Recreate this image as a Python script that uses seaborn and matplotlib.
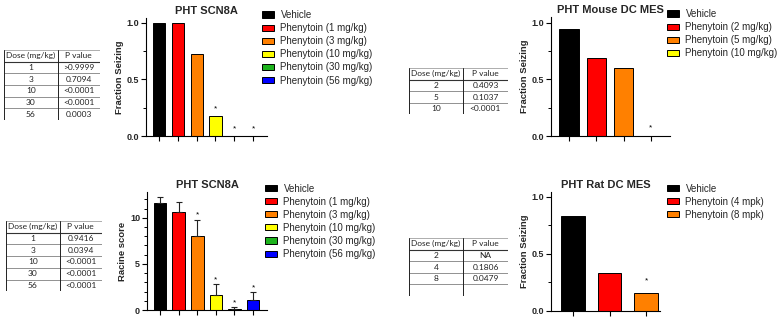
import matplotlib
matplotlib.use("Agg")
import matplotlib.pyplot as plt
from matplotlib.patches import Patch
from matplotlib.ticker import MultipleLocator, FormatStrFormatter
import seaborn as sns
import pandas as pd

sns.set_style("ticks")
plt.rcParams["font.family"] = ["Liberation Sans", "DejaVu Sans"]

W, H = 780, 320

# --- Daten ---
scn8a_groups = ["Vehicle", "Phenytoin (1 mg/kg)", "Phenytoin (3 mg/kg)",
                "Phenytoin (10 mg/kg)", "Phenytoin (30 mg/kg)", "Phenytoin (56 mg/kg)"]
scn8a_colors = ["#000000", "#ff0000", "#ff8000", "#ffff00", "#1db31d", "#0000ff"]
scn8a_fraction = [1.0, 1.0, 0.72, 0.18, 0.0, 0.0]
scn8a_fraction_sig = [False, False, False, True, True, True]
scn8a_racine = [11.6, 10.6, 8.0, 1.65, 0.1, 1.1]
scn8a_racine_sem = [0.7, 1.1, 1.8, 1.15, 0.2, 0.8]
scn8a_racine_sig = [False, False, True, True, True, True]

mouse_groups = ["Vehicle", "Phenytoin (2 mg/kg)", "Phenytoin (5 mg/kg)", "Phenytoin (10 mg/kg)"]
mouse_colors = ["#000000", "#ff0000", "#ff8000", "#ffff00"]
mouse_fraction = [0.94, 0.69, 0.6, 0.0]
mouse_sig = [False, False, False, True]

rat_groups = ["Vehicle", "Phenytoin (4 mpk)", "Phenytoin (8 mpk)"]
rat_colors = ["#000000", "#ff0000", "#ff8000"]
rat_fraction = [0.83, 0.33, 0.16]
rat_sig = [False, False, True]

tab_scn8a_frac_dose = ["1", "3", "10", "30", "56"]
tab_scn8a_frac_p = [">0.9999", "0.7094", "<0.0001", "<0.0001", "0.0003"]
tab_mouse_dose = ["2", "5", "10"]
tab_mouse_p = ["0.4093", "0.1037", "<0.0001"]
tab_scn8a_rac_dose = ["1", "3", "10", "30", "56"]
tab_scn8a_rac_p = ["0.9416", "0.0394", "<0.0001", "<0.0001", "<0.0001"]
tab_rat_dose = ["2", "4", "8"]
tab_rat_p = ["NA", "0.1806", "0.0479"]


def rect(x0, y0, x1, y1):
    return [x0 / W, 1 - y1 / H, (x1 - x0) / W, (y1 - y0) / H]


fig = plt.figure(figsize=(W / 100, H / 100), dpi=100)


def bar_panel(box, groups, colors, values, sig, title, ylabel, ylim, xlim,
              width, major, minor, fmt, leg_xy, star_gap, err=None):
    ax = fig.add_axes(rect(*box))
    df = pd.DataFrame({"group": groups, "value": values})
    sns.barplot(data=df, x="group", y="value", hue="group", order=groups,
                hue_order=groups, palette=colors, saturation=1, width=width,
                edgecolor="black", linewidth=0.7, errorbar=None, legend=False, ax=ax)
    tops = list(values)
    if err is not None:
        n = len(values)
        ax.errorbar(range(n), values, yerr=[[0] * n, err], fmt="none",
                    ecolor="#222222", elinewidth=0.8, capsize=2.5, capthick=0.8)
        tops = [v + e for v, e in zip(values, err)]
    for i, s in enumerate(sig):
        if s:
            ax.text(i, tops[i] + star_gap, "*", ha="center", va="center",
                    fontsize=6, color="black")
    ax.set_xlim(*xlim)
    ax.set_ylim(*ylim)
    ax.set_xticks(range(len(groups)))
    ax.set_xticklabels([])
    ax.set_xlabel("")
    ax.yaxis.set_major_locator(MultipleLocator(major))
    ax.yaxis.set_minor_locator(MultipleLocator(minor))
    ax.yaxis.set_major_formatter(FormatStrFormatter(fmt))
    ax.tick_params(axis="both", which="major", length=3.5, width=0.8,
                   color="black", labelsize=6.5, pad=1.5)
    ax.tick_params(axis="y", which="minor", length=2, width=0.7, color="black")
    for lab in ax.get_yticklabels():
        lab.set_fontweight("bold")
    ax.set_ylabel(ylabel, fontsize=6.8, fontweight="bold", labelpad=2)
    ax.set_title(title, fontsize=8, fontweight="bold", pad=3)
    sns.despine(ax=ax)
    for sp in ("left", "bottom"):
        ax.spines[sp].set_color("black")
        ax.spines[sp].set_linewidth(0.8)
    handles = [Patch(facecolor=c, edgecolor="black", linewidth=0.7) for c in colors]
    fig.legend(handles, groups, loc="upper left",
               bbox_to_anchor=(leg_xy[0] / W, 1 - leg_xy[1] / H),
               frameon=False, fontsize=7, handlelength=1.25, handleheight=0.6,
               handletextpad=0.65, labelspacing=0.32, borderpad=0, borderaxespad=0)
    return ax


def draw_table(x0, xs, x1, ytop, row_h, doses, pvals, n_blank=0):
    nrows = 1 + len(doses) + n_blank
    ybot = ytop + nrows * row_h
    ax = fig.add_axes(rect(x0, ytop, x1, ybot))
    ax.set_xlim(x0, x1)
    ax.set_ylim(nrows, 0)
    ax.axis("off")
    kw = dict(fontsize=6, family=["Lato", "DejaVu Sans"], color="#222222",
              ha="center", va="center")
    c1 = (x0 + xs) / 2
    c2 = (xs + x1) / 2
    ax.text(c1, 0.5, "Dose (mg/kg)", **kw)
    ax.text(c2, 0.5, "P value", **kw)
    for i, (d, p) in enumerate(zip(doses, pvals)):
        ax.text(c1, i + 1.5, d, **kw)
        ax.text(c2, i + 1.5, p, **kw)
    ax.plot([x0, x1], [0, 0], color="#a0a0a0", lw=0.6)
    ax.plot([x0, x1], [1, 1], color="#333333", lw=0.8)
    for r in range(2, nrows):
        ax.plot([x0, x1], [r, r], color="#808080", lw=0.6)
    ax.plot([x0, x0], [0, nrows], color="#222222", lw=0.7)
    ax.plot([xs, xs], [0, nrows], color="#222222", lw=0.7)


# --- Oben links: SCN8A Fraction ---
bar_panel((146, 18, 267, 136), scn8a_groups, scn8a_colors, scn8a_fraction,
          scn8a_fraction_sig, "PHT SCN8A", "Fraction Seizing", (0, 1.04),
          (-0.69, 5.74), 0.65, 0.5, 0.25, "%.1f", (262, 10), 0.06)
draw_table(4, 57.5, 100, 50, 11.7, tab_scn8a_frac_dose, tab_scn8a_frac_p)

# --- Oben rechts: Mouse DC MES ---
bar_panel((551, 17, 670, 136), mouse_groups, mouse_colors, mouse_fraction,
          mouse_sig, "PHT Mouse DC MES", "Fraction Seizing", (0, 1.05),
          (-0.66, 3.7), 0.7, 0.5, 0.25, "%.1f", (667, 9), 0.07)
draw_table(409, 463, 508, 68, 11.6, tab_mouse_dose, tab_mouse_p)

# --- Unten links: SCN8A Racine ---
bar_panel((147, 192, 267, 310), scn8a_groups, scn8a_colors, scn8a_racine,
          scn8a_racine_sig, "PHT SCN8A", "Racine score", (0, 12.8),
          (-0.7, 5.75), 0.68, 5, 1, "%d", (265, 183.5), 0.5,
          err=scn8a_racine_sem)
draw_table(6, 59.5, 102, 221, 11.7, tab_scn8a_rac_dose, tab_scn8a_rac_p)

# --- Unten rechts: Rat DC MES ---
bar_panel((551, 192, 660, 311), rat_groups, rat_colors, rat_fraction,
          rat_sig, "PHT Rat DC MES", "Fraction Seizing", (0, 1.04),
          (-0.6, 2.38), 0.64, 0.5, 0.25, "%.1f", (667, 183.5), 0.1)
draw_table(409, 463, 508, 238, 11.6, tab_rat_dose, tab_rat_p, n_blank=1)

plt.savefig("out.png", dpi=100)
